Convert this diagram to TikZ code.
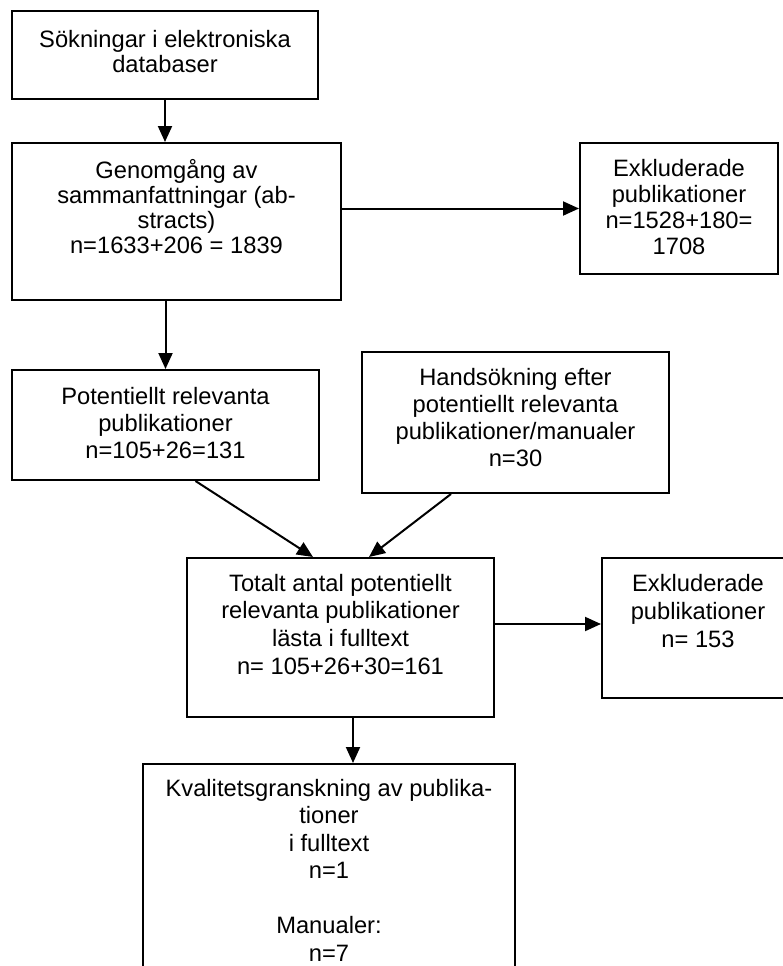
\documentclass[tikz,border=0pt]{standalone}
\usepackage{fontspec}
\setmainfont{Liberation Sans}
\usetikzlibrary{arrows.meta,calc}
\newcommand{\bx}[5]{\parbox[t][#2pt][t]{#1pt}{\centering\fontsize{23.7}{#4}\selectfont\rule{0pt}{#3pt}#5}}
\begin{document}
\begin{tikzpicture}[x=1pt,y=-1pt,
  box/.style={draw, line width=2pt, inner sep=0pt, anchor=north west},
  arr/.style={line width=2pt, -{Triangle[length=16pt,width=14pt]}}]
\useasboundingbox[fill=white] (0,0) rectangle (782,966);
\node[box] (b1) at (11,10) {\bx{306}{88}{37}{25}{Sökningar i elektroniska\\databaser}};
\node[box] (b2) at (11,142) {\bx{329}{157}{35}{25.3}{Genomgång av\\sammanfattningar (ab-\\stracts)\\n=1633+206 = 1839}};
\node[box] (b3) at (579,142) {\bx{198}{131}{33}{26}{Exkluderade\\publikationer\\n=1528+180=\\1708}};
\node[box] (b4) at (11,369) {\bx{307}{110}{34}{27}{Potentiellt relevanta\\publikationer\\n=105+26=131}};
\node[box] (b5) at (361,351) {\bx{307}{141}{33}{27}{Handsökning efter\\potentiellt relevanta\\publikationer/manualer\\n=30}};
\node[box] (b6) at (186,557) {\bx{307}{159}{33}{27.7}{Totalt antal potentiellt\\relevanta publikationer\\lästa i fulltext\\n= 105+26+30=161}};
\node[box] (b7) at (601,557) {\bx{192}{140}{33}{28}{Exkluderade\\publikationer\\n= 153}};
\node[box] (b8) at (142,763) {\bx{372}{240}{32}{27.5}{Kvalitetsgranskning av publika-\\tioner\\i fulltext\\n=1\\[27.5pt]Manualer:\\n=7}};
\draw[arr] (b1.south) -- (b1.south |- b2.north);
\draw[arr] (b2.east |- b3.west) -- (b3.west);
\draw[arr] (b2.south -| b4.north) -- (b4.north);
\coordinate (c46a) at ([xshift=30pt]b4.south);
\coordinate (c46b) at ([xshift=-27.5pt]b6.north);
\draw[arr] (c46a) -- (c46b);
\coordinate (c56a) at ([xshift=-64.5pt]b5.south);
\coordinate (c56b) at ([xshift=28.5pt]b6.north);
\draw[arr] (c56a) -- (c56b);
\coordinate (c67) at ([yshift=13.5pt]b6.east);
\draw[arr] (c67) -- (c67 -| b7.west);
\coordinate (c68) at ([xshift=12.5pt]b6.south);
\draw[arr] (c68) -- (c68 |- b8.north);
\end{tikzpicture}
\end{document}
